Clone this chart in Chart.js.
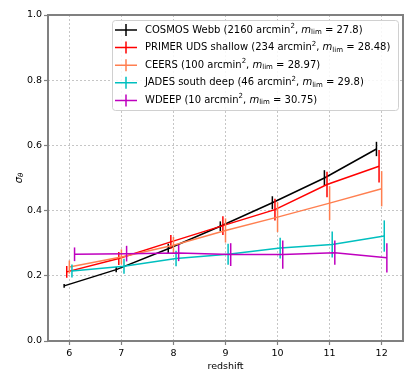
<!DOCTYPE html>
<html>
<head>
<meta charset="utf-8">
<script src="https://cdn.jsdelivr.net/npm/chart.js@4"></script>
<style>
html,body{margin:0;padding:0;background:#fff;}
#wrap{width:415px;height:385px;position:relative;}
</style>
</head>
<body>
<div id="wrap"><canvas id="c" width="415" height="385"></canvas></div>
<script>
// ---- data ----
const redshifts = [6, 7, 8, 9, 10, 11, 12];
const xOffsets = [-0.1, -0.05, 0, 0.05, 0.1];
const seriesNames = ["COSMOS Webb", "PRIMER UDS shallow", "CEERS", "JADES south deep", "WDEEP"];
const seriesAreas = ["2160", "234", "100", "46", "10"];
const seriesMlim = ["27.8", "28.48", "28.97", "29.8", "30.75"];
const cosmos = [0.169, 0.219, 0.283, 0.352, 0.424, 0.500, 0.589];
const cosmosErr = [0.006, 0.008, 0.015, 0.015, 0.020, 0.024, 0.022];
const primer = [0.212, 0.253, 0.304, 0.354, 0.403, 0.480, 0.536];
const primerErr = [0.018, 0.020, 0.021, 0.029, 0.033, 0.039, 0.050];
const ceers = [0.227, 0.258, 0.294, 0.339, 0.380, 0.423, 0.467];
const ceersErr = [0.020, 0.023, 0.025, 0.037, 0.046, 0.052, 0.054];
const jades = [0.215, 0.229, 0.253, 0.266, 0.285, 0.296, 0.322];
const jadesErr = [0.020, 0.023, 0.024, 0.032, 0.032, 0.040, 0.048];
const wdeep = [0.266, 0.268, 0.270, 0.265, 0.265, 0.271, 0.255];
const wdeepErr = [0.021, 0.024, 0.025, 0.035, 0.043, 0.037, 0.045];
const xTicks = [6, 7, 8, 9, 10, 11, 12];
const yTicks = [0, 0.2, 0.4, 0.6, 0.8, 1.0];

const colors = ["#000000", "#ff0000", "#ff7f50", "#00bfbf", "#bf00bf"];
const values = [cosmos, primer, ceers, jades, wdeep];
const errors = [cosmosErr, primerErr, ceersErr, jadesErr, wdeepErr];
const FONT = "'DejaVu Sans', sans-serif";

const datasets = values.map((vals, i) => ({
  label: seriesNames[i],
  data: redshifts.map((z, j) => ({x: z + xOffsets[i], y: vals[j]})),
  borderColor: colors[i],
  backgroundColor: colors[i],
  borderWidth: 1.5,
  pointRadius: 0,
  tension: 0,
  order: values.length - i
}));

const errorBars = {
  id: 'errorBars',
  afterDatasetDraw(chart, args) {
    const i = args.index;
    const ctx = chart.ctx, xs = chart.scales.x, ys = chart.scales.y;
    ctx.save();
    ctx.strokeStyle = colors[i];
    ctx.lineWidth = 1.5;
    redshifts.forEach((z, j) => {
      const px = xs.getPixelForValue(z + xOffsets[i]);
      const y1 = ys.getPixelForValue(values[i][j] - errors[i][j]);
      const y2 = ys.getPixelForValue(values[i][j] + errors[i][j]);
      ctx.beginPath(); ctx.moveTo(px, y1); ctx.lineTo(px, y2); ctx.stroke();
    });
    ctx.restore();
  }
};

function drawRich(ctx, segs, x, y, size) {
  let cx = x;
  segs.forEach(([t, s]) => {
    let f = size, dy = 0, it = '';
    if (s === 'sup') { f = size * 0.7; dy = -size * 0.38; }
    if (s === 'sub') { f = size * 0.7; dy = size * 0.22; }
    if (s === 'i') { it = 'italic '; }
    if (s === 'isub') { it = 'italic '; f = size * 0.7; dy = size * 0.22; }
    ctx.font = it + f + 'px ' + FONT;
    ctx.fillText(t, cx, y + dy);
    cx += ctx.measureText(t).width;
  });
  return cx;
}

const decor = {
  id: 'decor',
  afterDraw(chart) {
    const ctx = chart.ctx, a = chart.chartArea;
    ctx.save();
    ctx.strokeStyle = '#808080';
    ctx.lineWidth = 2;
    ctx.strokeRect(a.left, a.top, a.right - a.left, a.bottom - a.top);
    const lx = 112, ly = 20, lw = 286, lh = 90;
    ctx.fillStyle = 'rgba(255,255,255,0.85)';
    ctx.strokeStyle = '#d0d0d0';
    ctx.lineWidth = 1;
    ctx.beginPath();
    ctx.roundRect(lx + 0.5, ly + 0.5, lw, lh, 3);
    ctx.fill(); ctx.stroke();
    ctx.textBaseline = 'middle';
    ctx.textAlign = 'left';
    seriesNames.forEach((n, i) => {
      const ry = 30 + i * 17.6;
      ctx.strokeStyle = colors[i];
      ctx.lineWidth = 1.5;
      ctx.beginPath();
      ctx.moveTo(115, ry); ctx.lineTo(137, ry);
      ctx.moveTo(126, ry - 6); ctx.lineTo(126, ry + 6);
      ctx.stroke();
      ctx.fillStyle = '#000';
      drawRich(ctx, [
        [n + ' (' + seriesAreas[i] + ' arcmin', 'n'], ['2', 'sup'], [', ', 'n'],
        ['m', 'i'], ['lim', 'sub'], [' = ' + seriesMlim[i] + ')', 'n']
      ], 145, ry, 10);
    });
    ctx.fillStyle = '#000';
    ctx.textAlign = 'center';
    ctx.font = '9.5px ' + FONT;
    ctx.fillText('redshift', (a.left + a.right) / 2, 367);
    ctx.translate(19, (a.top + a.bottom) / 2);
    ctx.rotate(-Math.PI / 2);
    ctx.textAlign = 'left';
    ctx.font = 'italic 10px ' + FONT;
    const w1 = ctx.measureText('σ').width;
    ctx.font = 'italic 7px ' + FONT;
    const w2 = ctx.measureText('θ').width;
    drawRich(ctx, [['σ', 'i'], ['θ', 'isub']], -(w1 + w2) / 2, 0, 10);
    ctx.restore();
  }
};

new Chart(document.getElementById('c'), {
  type: 'line',
  data: {datasets},
  options: {
    responsive: false,
    animation: false,
    devicePixelRatio: 1,
    layout: {padding: {top: 15, right: 12, left: 0, bottom: 0}},
    plugins: {legend: {display: false}, tooltip: {enabled: false}},
    scales: {
      x: {
        type: 'linear', min: 5.59, max: 12.41,
        afterBuildTicks: s => { s.ticks = xTicks.map(v => ({value: v})); },
        afterFit: s => { s.height = 44; },
        ticks: {color: '#000', font: {family: FONT, size: 9.5}, padding: 3, maxRotation: 0},
        grid: {color: '#b8b8b8', lineWidth: 0.8, tickColor: '#808080', tickLength: 4, tickWidth: 1.2},
        border: {display: false, dash: [2, 2]}
      },
      y: {
        type: 'linear', min: 0, max: 1,
        afterBuildTicks: s => { s.ticks = yTicks.map(v => ({value: v})); },
        afterFit: s => { s.width = 48; },
        ticks: {color: '#000', font: {family: FONT, size: 9.5}, padding: 2, callback: v => v.toFixed(1)},
        grid: {color: '#b8b8b8', lineWidth: 0.8, tickColor: '#808080', tickLength: 4, tickWidth: 1.2},
        border: {display: false, dash: [2, 2]}
      }
    }
  },
  plugins: [errorBars, decor]
});
</script>
</body>
</html>
